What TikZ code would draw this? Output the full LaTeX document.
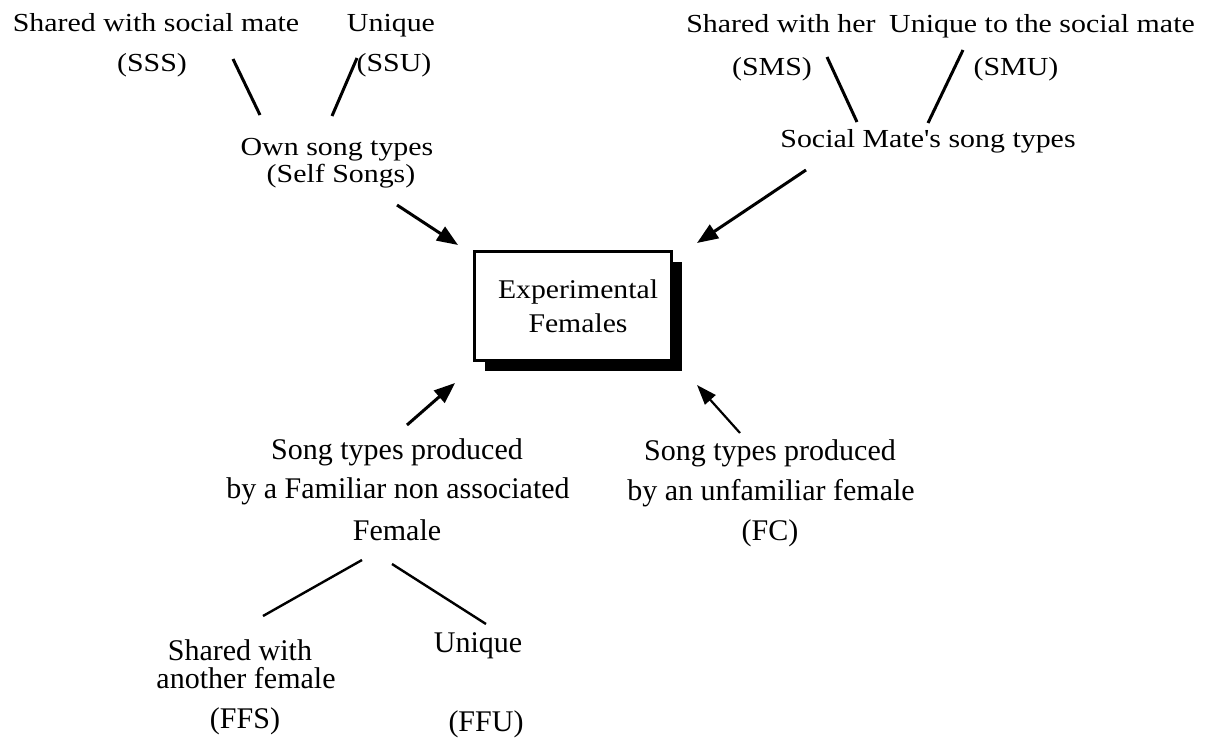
\documentclass[tikz,border=0pt]{standalone}
\usepackage{fontspec}
\setmainfont{Liberation Serif}
\newfontfamily\widefont[FakeStretch=1.15]{Liberation Serif}
\newfontfamily\boxfont[FakeStretch=1.1]{Liberation Serif}
\usetikzlibrary{arrows.meta,shadows}
\begin{document}
\begin{tikzpicture}[x=1pt,y=-1pt,
  toplbl/.style={anchor=base,inner sep=0pt,font=\widefont\fontsize{26}{30}\selectfont},
  botlbl/.style={anchor=base,inner sep=0pt,font=\fontsize{30}{36}\selectfont},
  link/.style={line width=3pt},
  arr/.style={line width=3pt,-{Triangle[length=21pt,width=16pt]}},
  thinarr/.style={line width=2.2pt,-{Triangle[length=20pt,width=14pt]}},
  expbox/.style={draw,line width=2.5pt,fill=white,minimum width=197pt,minimum height=109pt,
    align=center,font=\boxfont\fontsize{27}{34}\selectfont,
    drop shadow={shadow xshift=10pt,shadow yshift=-10pt,fill=black,opacity=1}},
]
\useasboundingbox (0,0) rectangle (1206,739);

% top-left group
\node[toplbl] (sssT) at (156,31) {Shared with social mate};
\node[toplbl] (sss)  at (152,71) {(SSS)};
\node[toplbl] (ssuT) at (391,31) {Unique};
\node[toplbl] (ssu)  at (394,71) {(SSU)};
\node[toplbl] (own1) at (337,155) {Own song types};
\node[toplbl] (own2) at (341,182) {(Self Songs)};

% top-right group
\node[toplbl] (smsT) at (781,32) {Shared with her};
\node[toplbl] (sms)  at (772,75) {(SMS)};
\node[toplbl] (smuT) at (1042,32) {Unique to the social mate};
\node[toplbl] (smu)  at (1016,75) {(SMU)};
\node[toplbl] (sm)   at (928,147) {Social Mate's song types};

% central box
\node[expbox] (exp) at (573,306) {\hspace*{10pt}Experimental\\\hspace*{10pt}Females};

% bottom-left group
\node[botlbl] (ff1) at (397,459) {Song types produced};
\node[botlbl] (ff2) at (398,498) {by a Familiar non associated};
\node[botlbl] (ff3) at (397,540) {Female};
\node[botlbl] (ffs1) at (240,660) {Shared with};
\node[botlbl] (ffs2) at (246,688) {another female};
\node[botlbl] (ffs)  at (245,728) {(FFS)};
\node[botlbl] (ffuT) at (478,652) {Unique};
\node[botlbl] (ffu)  at (486,731) {(FFU)};

% bottom-right group
\node[botlbl] (fc1) at (770,460) {Song types produced};
\node[botlbl] (fc2) at (771,500) {by an unfamiliar female};
\node[botlbl] (fc)  at (770,540) {(FC)};

% line end points
\coordinate (sssA) at (233,59);  \coordinate (sssB) at (260,115);
\coordinate (ssuA) at (357,58);  \coordinate (ssuB) at (332,116);
\coordinate (smsA) at (827,57);  \coordinate (smsB) at (857,122);
\coordinate (smuA) at (963,50);  \coordinate (smuB) at (928,123);
\coordinate (ownA) at (397,205); \coordinate (ownB) at (458,245);
\coordinate (smA)  at (806,170); \coordinate (smB)  at (697,243);
\coordinate (ffA)  at (407,425); \coordinate (ffB)  at (455,383);
\coordinate (fcA)  at (740,433); \coordinate (fcB)  at (697,385);
\coordinate (lfA)  at (362,560); \coordinate (lfB)  at (263,616);
\coordinate (rfA)  at (392,564); \coordinate (rfB)  at (486,624);

\draw[link] (sssA) -- (sssB);
\draw[link] (ssuA) -- (ssuB);
\draw[link] (smsA) -- (smsB);
\draw[link] (smuA) -- (smuB);
\draw[arr] (ownA) -- (ownB);
\draw[arr] (smA) -- (smB);
\draw[arr] (ffA) -- (ffB);
\draw[thinarr] (fcA) -- (fcB);
\draw[link,line width=2.4pt] (lfA) -- (lfB);
\draw[link,line width=2.4pt] (rfA) -- (rfB);
\end{tikzpicture}
\end{document}
